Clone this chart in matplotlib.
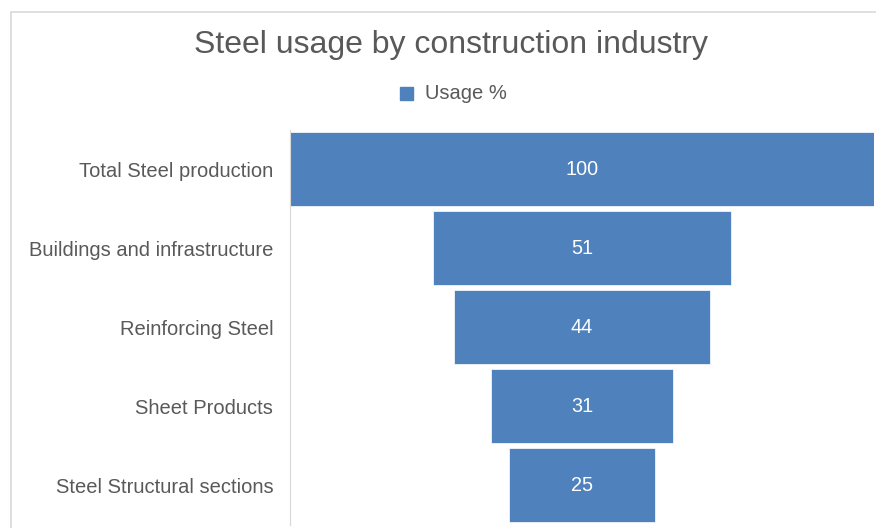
import matplotlib.pyplot as plt
from matplotlib.patches import Rectangle

stages = ["Total Steel production", "Buildings and infrastructure",
          "Reinforcing Steel", "Sheet Products", "Steel Structural sections"]
usage = [100, 51, 44, 31, 25]

bar_color = "#4f81bd"
text_color = "#595959"

plt.rcParams["font.family"] = ["Liberation Sans", "DejaVu Sans"]

fig = plt.figure(figsize=(8.76, 5.28), dpi=100)
W, H = 876, 528

# light frame around the chart area
fig.patches.append(Rectangle((11 / W, -0.1), 1.0, (H - 12) / H + 0.1,
                             transform=fig.transFigure, fill=False,
                             edgecolor="#d9d9d9", linewidth=1.2))

ax = fig.add_axes([290 / W, 3.5 / H, 584 / W, 395 / H])

ypos = range(len(stages))
ax.barh(ypos, usage, left=[-u / 2 for u in usage], height=0.93,
        color=bar_color, edgecolor="white", linewidth=0.5)
for y, u in zip(ypos, usage):
    ax.text(0, y, str(u), ha="center", va="center", color="white",
            fontsize=14.3)

ax.set_xlim(-50, 50)
ax.set_ylim(len(stages) - 0.5, -0.5)
ax.set_xticks([])
ax.set_yticks(list(ypos))
ax.set_yticklabels(stages, fontsize=14.5, color=text_color)
ax.tick_params(axis="y", length=0, pad=12)
for side in ["top", "right", "bottom"]:
    ax.spines[side].set_visible(False)
ax.spines["left"].set_color("#d9d9d9")

fig.text(451 / W, 1 - 53 / H, "Steel usage by construction industry",
         ha="center", va="baseline", fontsize=23, color=text_color)

# legend
fig.patches.append(Rectangle((400 / W, 1 - 100 / H), 13 / W, 13 / H,
                             transform=fig.transFigure, color=bar_color))
fig.text(425 / W, 1 - 99 / H, "Usage %", ha="left", va="baseline",
         fontsize=14.5, color=text_color)

fig.savefig("out.png", dpi=100)
